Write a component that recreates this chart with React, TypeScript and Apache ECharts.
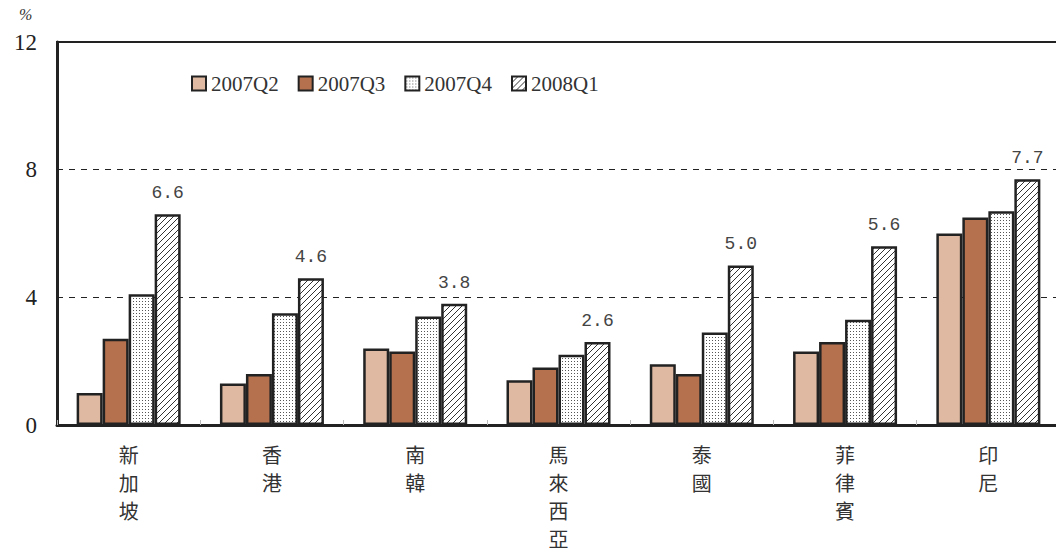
import React, { useEffect, useRef } from 'react';
import * as echarts from 'echarts';

const categories = ['新加坡', '香港', '南韓', '馬來西亞', '泰國', '菲律賓', '印尼'];
const seriesNames = ['2007Q2', '2007Q3', '2007Q4', '2008Q1'];
const q2_2007 = [1.0, 1.3, 2.4, 1.4, 1.9, 2.3, 6.0];
const q3_2007 = [2.7, 1.6, 2.3, 1.8, 1.6, 2.6, 6.5];
const q4_2007 = [4.1, 3.5, 3.4, 2.2, 2.9, 3.3, 6.7];
const q1_2008 = [6.6, 4.6, 3.8, 2.6, 5.0, 5.6, 7.7];
const yMin = 0;
const yMax = 12;
const yInterval = 4;
const unitLabel = '%';

function dotTile() {
  const c = document.createElement('canvas');
  c.width = 3;
  c.height = 3;
  const ctx = c.getContext('2d')!;
  ctx.fillStyle = '#ffffff';
  ctx.fillRect(0, 0, 3, 3);
  ctx.fillStyle = '#555555';
  ctx.fillRect(1, 1, 1, 1);
  return c;
}

function hatchTile() {
  const s = 6;
  const c = document.createElement('canvas');
  c.width = s;
  c.height = s;
  const ctx = c.getContext('2d')!;
  ctx.fillStyle = '#ffffff';
  ctx.fillRect(0, 0, s, s);
  ctx.strokeStyle = '#333333';
  ctx.lineWidth = 1;
  ctx.beginPath();
  ctx.moveTo(0, s);
  ctx.lineTo(s, 0);
  ctx.moveTo(-1, 1);
  ctx.lineTo(1, -1);
  ctx.moveTo(s - 1, s + 1);
  ctx.lineTo(s + 1, s - 1);
  ctx.stroke();
  return c;
}

export default function App() {
  const ref = useRef<HTMLDivElement>(null);
  useEffect(() => {
    if (!ref.current) return;
    const chart = echarts.init(ref.current, null, { renderer: 'svg' });
    const dots = dotTile();
    const hatch = hatchTile();
    const fills: any[] = [
      '#DFB9A1',
      '#B5714E',
      { image: dots, repeat: 'repeat', imageWidth: 3, imageHeight: 3 },
      { image: hatch, repeat: 'repeat', imageWidth: 6, imageHeight: 6 },
    ];
    const values = [q2_2007, q3_2007, q4_2007, q1_2008];
    const series = seriesNames.map((name, i) => ({
      name,
      type: 'bar',
      data: values[i],
      barWidth: 26,
      barGap: '0%',
      itemStyle: { color: fills[i], borderColor: '#222', borderWidth: 2.5 },
      label:
        i === 3
          ? {
              show: true,
              position: 'top',
              distance: 12,
              fontFamily: 'Liberation Mono',
              fontSize: 18,
              color: '#444',
              formatter: (p: any) => Number(p.value).toFixed(1),
            }
          : { show: false },
    }));
    chart.setOption({
      animation: false,
      backgroundColor: '#ffffff',
      grid: {
        left: 57,
        top: 42,
        right: -4,
        bottom: 129,
        show: true,
        borderColor: '#222',
        borderWidth: 2,
        backgroundColor: 'transparent',
        outerBoundsMode: 'none',
      },
      legend: {
        data: seriesNames,
        left: 191,
        top: 73,
        padding: 0,
        itemWidth: 14,
        itemHeight: 14,
        itemGap: 19,
        icon: 'rect',
        textStyle: { fontFamily: 'Liberation Serif', fontSize: 21, color: '#333' },
      },
      graphic: [
        {
          type: 'text',
          left: 19,
          top: 6,
          style: { text: unitLabel, fontSize: 16, fontFamily: 'Liberation Serif', fill: '#333', fontStyle: 'italic' },
        },
      ],
      xAxis: {
        type: 'category',
        data: categories,
        axisLine: { show: true, lineStyle: { color: '#222', width: 3 } },
        axisTick: { show: true, inside: true, length: 5, lineStyle: { color: '#bbb' } },
        axisLabel: {
          formatter: (v: string) => v.split('').join('\n'),
          fontFamily: 'Noto Sans CJK TC',
          fontSize: 20,
          lineHeight: 28,
          color: '#333',
          margin: 15,
        },
      },
      yAxis: {
        type: 'value',
        min: yMin,
        max: yMax,
        interval: yInterval,
        axisLine: { show: true, lineStyle: { color: '#222', width: 3 } },
        axisTick: { show: false },
        axisLabel: { fontFamily: 'Liberation Serif', fontSize: 23, color: '#222', margin: 20 },
        splitLine: { show: true, lineStyle: { type: [6, 6], color: '#222', width: 1 } },
      },
      series,
    });
    return () => chart.dispose();
  }, []);
  return (
    <div
      ref={ref}
      style={{ position: 'absolute', left: 0, top: 0, width: 1056, height: 554 }}
    />
  );
}
